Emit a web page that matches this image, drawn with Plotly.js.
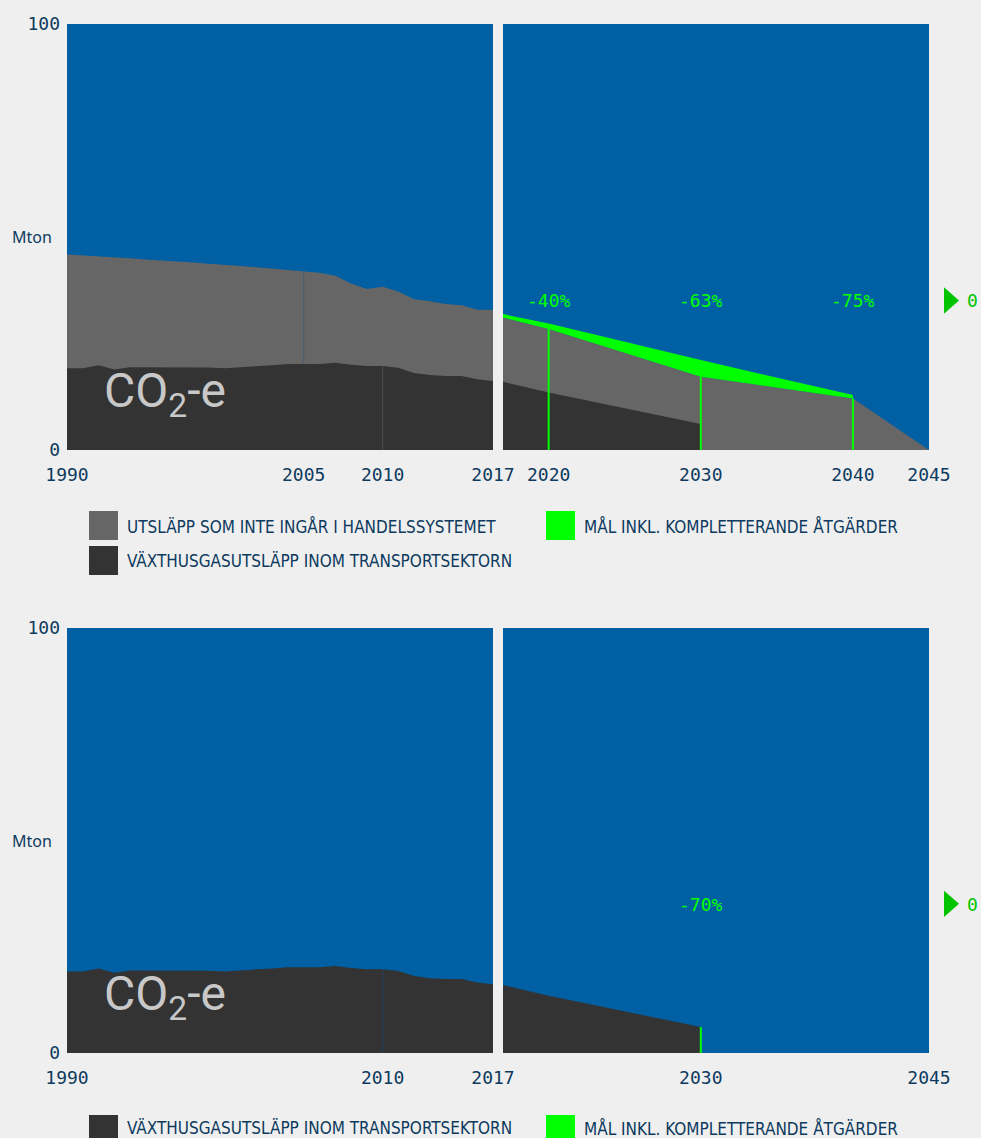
<!DOCTYPE html>
<html>
<head>
<meta charset="utf-8">
<script src="https://cdn.plot.ly/plotly-3.0.1.min.js"></script>
<style>html,body{margin:0;padding:0;background:#efefef;}#chart{width:981px;height:1138px;}</style>
</head>
<body>
<div id="chart"></div>
<script>
// ---- data ----
const years = [1990,1991,1992,1993,1994,1995,1996,1997,1998,1999,2000,2001,2002,2003,2004,2005,2006,2007,2008,2009,2010,2011,2012,2013,2014,2015,2016,2017];
const nonEtsEmissions = [45.9,45.7,45.5,45.2,45.0,44.7,44.5,44.2,44.0,43.7,43.5,43.2,42.9,42.6,42.3,42.0,41.6,40.9,39.1,37.8,38.3,37.2,35.4,34.9,34.3,34.0,32.9,32.9];
const transportEmissions = [19.2,19.2,19.9,18.9,19.4,19.4,19.3,19.3,19.4,19.35,19.2,19.4,19.7,19.9,20.2,20.2,20.2,20.5,20.0,19.7,19.7,19.3,18.1,17.6,17.4,17.4,16.6,16.2];

const goalYears = [2017,2020,2030,2040,2045];
const goalNonEts = [31.1,28.4,17.2,12.1,0];
const extraYears = [2017,2020,2030,2040];
const extraTop = [31.9,29.7,21.1,12.9];
const projYears = [2017,2020,2030];
const projTransport = [16.0,13.5,6.1];

const milestonesTop = [2020,2030,2040];
const milestoneLabelsTop = ['-40%','-63%','-75%'];
const milestonesBottom = [2030];
const milestoneLabelsBottom = ['-70%'];

const segmentYears = [2005,2010];

const ticksTopLeft = [1990,2005,2010,2017];
const ticksTopRight = [2020,2030,2040,2045];
const ticksBottomLeft = [1990,2010,2017];
const ticksBottomRight = [2030,2045];
const yTicks = [0,100];
const yUnit = 'Mton';
const zeroTargetLabel = '0';

const nameNonEts = 'UTSLÄPP SOM INTE INGÅR I HANDELSSYSTEMET';
const nameTransport = 'VÄXTHUSGASUTSLÄPP INOM TRANSPORTSEKTORN';
const nameGoal = 'MÅL INKL. KOMPLETTERANDE ÅTGÄRDER';

// ---- styles ----
const BLUE = '#0060a3', GRAY = '#666666', DARK = '#333333', GREEN = '#00ff00', GREEN2 = '#00c400';
const NAVY = '#0d3a5e';
const MONO = 'DejaVu Sans Mono, monospace';
const NARROW = 'Liberation Sans Narrow, DejaVu Sans Condensed, Roboto, sans-serif';

const L = 67, R = 52, T = 24, B = 85, W = 981, H = 1138;
const PW = W - L - R, PH = H - T - B;
const px = x => (x - L) / PW;
const py = y => (H - B - y) / PH;

function valAt(xs, ys, x){ return ys[xs.indexOf(x)]; }

const traces = [];
function area(x, y, color, xa, ya){
  traces.push({x, y, type:'scatter', mode:'lines', fill:'tozeroy', fillcolor:color,
    line:{width:0, color:color}, xaxis:xa, yaxis:ya, showlegend:false, hoverinfo:'skip'});
}
// top left
area(years, nonEtsEmissions, GRAY, 'x', 'y');
area(years, transportEmissions, DARK, 'x', 'y');
// top right
area(goalYears, goalNonEts, GRAY, 'x2', 'y2');
area(projYears, projTransport, DARK, 'x2', 'y2');
const baseUnder = extraYears.map(yr => valAt(goalYears, goalNonEts, yr));
traces.push({x: extraYears.concat(extraYears.slice().reverse()),
  y: extraTop.concat(baseUnder.slice().reverse()), type:'scatter', mode:'lines', fill:'toself',
  fillcolor:GREEN, line:{width:0, color:GREEN}, xaxis:'x2', yaxis:'y2', showlegend:false, hoverinfo:'skip'});
// bottom
area(years, transportEmissions, DARK, 'x3', 'y3');
area(projYears, projTransport, DARK, 'x4', 'y4');

const shapes = [];
// milestone vertical lines
milestonesTop.forEach(yr => shapes.push({type:'line', xref:'x2', yref:'y2', x0:yr, x1:yr, y0:0,
  y1:valAt(goalYears, goalNonEts, yr), line:{color:GREEN, width:2}}));
milestonesBottom.forEach(yr => shapes.push({type:'line', xref:'x4', yref:'y4', x0:yr, x1:yr, y0:0,
  y1:valAt(projYears, projTransport, yr), line:{color:GREEN, width:2}}));
// faint segment seams
shapes.push({type:'line', xref:'x', yref:'y', x0:segmentYears[0], x1:segmentYears[0],
  y0:valAt(years, transportEmissions, segmentYears[0]), y1:valAt(years, nonEtsEmissions, segmentYears[0]),
  line:{color:'rgba(40,90,140,0.45)', width:1}});
shapes.push({type:'line', xref:'x', yref:'y', x0:segmentYears[1], x1:segmentYears[1],
  y0:0, y1:valAt(years, transportEmissions, segmentYears[1]), line:{color:'rgba(110,110,110,0.45)', width:1}});
shapes.push({type:'line', xref:'x3', yref:'y3', x0:segmentYears[1], x1:segmentYears[1],
  y0:0, y1:valAt(years, transportEmissions, segmentYears[1]), line:{color:'rgba(20,80,140,0.5)', width:1}});

// target markers (triangle) beside right plots
function triangle(yref){
  shapes.push({type:'path', xref:'paper', yref:yref,
    path:`M ${px(944)} 38.2 L ${px(959)} 35.1 L ${px(944)} 32.0 Z`, fillcolor:GREEN2, line:{width:0}});
}
triangle('y2'); triangle('y4');

const annotations = [];
function pctLabels(yrs, labels, xa, ya){
  yrs.forEach((yr,i) => annotations.push({xref:xa, yref:ya, x:yr, y:35, text:labels[i], showarrow:false,
    xanchor:'center', yanchor:'middle', font:{family:MONO, size:18, color:GREEN}}));
}
pctLabels(milestonesTop, milestoneLabelsTop, 'x2', 'y2');
pctLabels(milestonesBottom, milestoneLabelsBottom, 'x4', 'y4');
['y2','y4'].forEach(ya => annotations.push({xref:'paper', yref:ya, x:px(965), y:35, text:zeroTargetLabel,
  showarrow:false, xanchor:'left', yanchor:'middle', font:{family:MONO, size:18, color:GREEN2}}));
['y','y3'].forEach(ya => {
  annotations.push({xref:'paper', yref:ya, x:px(54), y:50, text:yUnit, showarrow:false, xanchor:'right',
    yanchor:'middle', font:{family:'Noto Sans, sans-serif', size:16, color:NAVY}});
  annotations.push({xref:'x'+(ya==='y'?'':'3'), yref:ya, x:1992.2, y:13.2, text:'CO<sub>2</sub>-e', showarrow:false,
    xanchor:'left', yanchor:'middle', font:{family:'Roboto, sans-serif', size:48, color:'#c8c8c8'}});
});

// legends (drawn as swatches + text)
function legendItem(x, y, color, label, dy){
  shapes.push({type:'rect', xref:'paper', yref:'paper', x0:px(x), x1:px(x+29), y0:py(y), y1:py(y+29),
    fillcolor:color, line:{width:0}});
  annotations.push({xref:'paper', yref:'paper', x:px(x+36), y:py(y+15+dy), text:label, showarrow:false,
    xanchor:'left', yanchor:'middle', font:{family:NARROW, size:17, color:NAVY}});
}
legendItem(89, 511, GRAY, nameNonEts, 0);
legendItem(546, 511, GREEN, nameGoal, 0);
legendItem(89, 546, DARK, nameTransport, 0);
legendItem(89, 1115, DARK, nameTransport, -2);
legendItem(546, 1115, GREEN, nameGoal, -2);

const domL = [0, px(493)], domR = [px(503), 1];
const domTop = [py(450), 1], domBot = [0, py(628)];
function xax(dom, range, ticks, anchor){
  return {domain:dom, range:range, anchor:anchor, tickvals:ticks, ticktext:ticks.map(String),
    showgrid:false, zeroline:false, showline:false, ticks:'', fixedrange:true, ticklabelstandoff:12,
    tickfont:{family:MONO, size:18, color:NAVY}};
}
function yax(dom, anchor, labels){
  return {domain:dom, range:[0,100], anchor:anchor, tickvals:yTicks, ticktext:yTicks.map(String),
    showticklabels:labels, showgrid:false, zeroline:false, showline:false, ticks:'', fixedrange:true,
    ticklabelstandoff:6, tickfont:{family:MONO, size:18, color:NAVY}};
}

const layout = {
  width:W, height:H, margin:{l:L, r:R, t:T, b:B}, paper_bgcolor:'#efefef', plot_bgcolor:BLUE,
  showlegend:false, hovermode:false,
  xaxis: xax(domL, [1990,2017], ticksTopLeft, 'y'),
  yaxis: yax(domTop, 'x', true),
  xaxis2: xax(domR, [2017,2045], ticksTopRight, 'y2'),
  yaxis2: yax(domTop, 'x2', false),
  xaxis3: xax(domL, [1990,2017], ticksBottomLeft, 'y3'),
  yaxis3: yax(domBot, 'x3', true),
  xaxis4: xax(domR, [2017,2045], ticksBottomRight, 'y4'),
  yaxis4: yax(domBot, 'x4', false),
  shapes, annotations
};
Plotly.newPlot('chart', traces, layout, {displayModeBar:false, staticPlot:true});
</script>
</body>
</html>
